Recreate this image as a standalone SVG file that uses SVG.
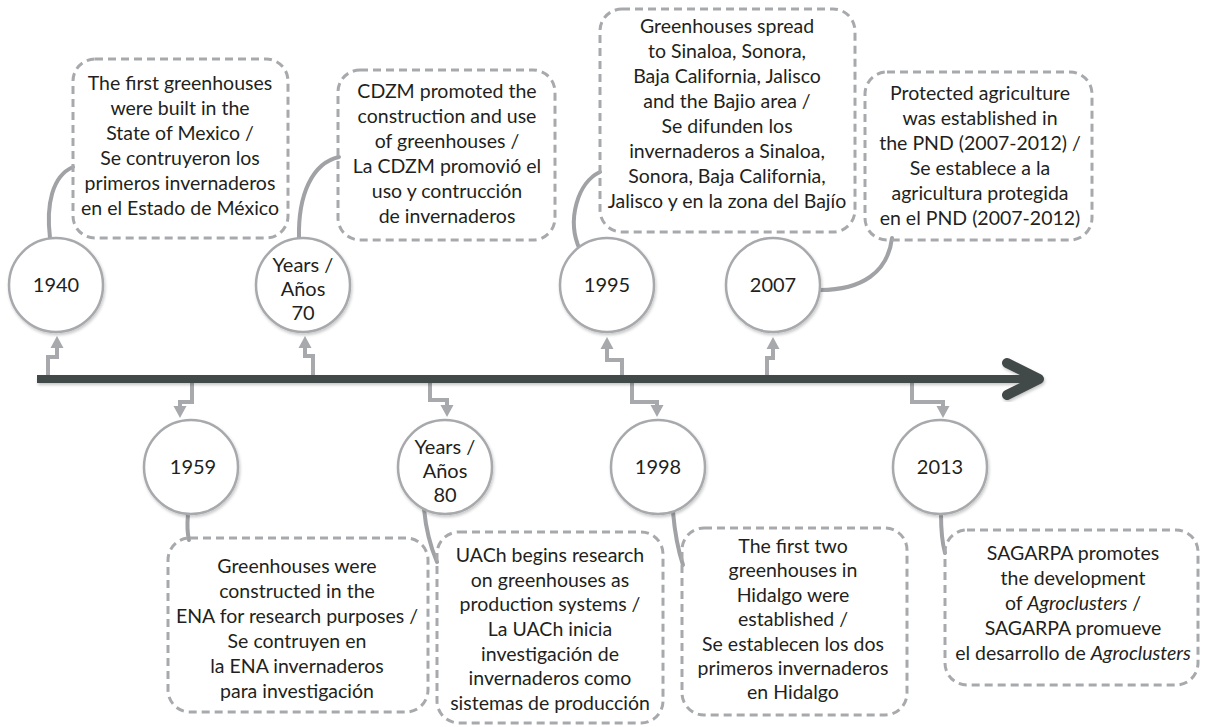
<svg xmlns="http://www.w3.org/2000/svg" width="1206" height="727" viewBox="0 0 1206 727">
<defs>
<style>
.bx{fill:none;stroke:#a7a9ac;stroke-width:3;stroke-dasharray:8 5}
.cc{fill:#fff;stroke:#a7a9ac;stroke-width:2.5}
.ln{fill:none;stroke:#a7a9ac;stroke-width:4}
.cu{fill:none;stroke:#a0a2a5;stroke-width:4;stroke-linecap:round}
.ah{fill:#a7a9ac}
text{font-family:Lato,"Liberation Sans",sans-serif;font-size:19.5px;fill:#231f20;text-anchor:middle}
.yr{font-size:20px}
</style>
<filter id="sh" x="-20%" y="-20%" width="140%" height="140%">
<feDropShadow dx="1" dy="2" stdDeviation="1.5" flood-color="#000" flood-opacity="0.22"/>
</filter>
</defs>
<rect width="1206" height="727" fill="#fff"/>
<g id="connectors">
<path class="ln" d="M48 377 V357 H57 V346"/><polygon class="ah" points="57,336 50.5,348 63.5,348"/>
<path class="ln" d="M313 377 V356 H305 V346"/><polygon class="ah" points="305,336 298.5,348 311.5,348"/>
<path class="ln" d="M622 377 V360 H607 V347"/><polygon class="ah" points="607,337 600.5,349 613.5,349"/>
<path class="ln" d="M767 377 V358 H773 V347"/><polygon class="ah" points="773,337 766.5,349 779.5,349"/>
<path class="ln" d="M192 381 V402 H180 V408"/><polygon class="ah" points="180,418 173.5,406 186.5,406"/>
<path class="ln" d="M430 381 V400 H447 V407"/><polygon class="ah" points="447,417 440.5,405 453.5,405"/>
<path class="ln" d="M632 381 V402 H657 V407"/><polygon class="ah" points="657,417 650.5,405 663.5,405"/>
<path class="ln" d="M912 381 V402 H943 V408"/><polygon class="ah" points="943,418 936.5,406 949.5,406"/>
<path class="cu" d="M73 167 C52 176 46 205 50 238"/>
<path class="cu" d="M339 157 C312 163 298 195 299 238"/>
<path class="cu" d="M600 172 C578 182 566 220 580 250"/>
<path class="cu" d="M892 238 C888 272 862 290 820 290"/>
<path class="cu" d="M188 514 C187 525 187 532 189 540"/>
<path class="cu" d="M424 509 C426 530 431 548 437 562"/>
<path class="cu" d="M673 512 C675 535 678 550 683 565"/>
<path class="cu" d="M941 514 C941 530 942 542 945 553"/>
</g>
<g id="timeline" filter="url(#sh)">
<line x1="37" y1="379" x2="1034" y2="379" stroke="#434848" stroke-width="8"/>
<polyline points="1007,363 1039,379 1007,395" fill="none" stroke="#434848" stroke-width="10" stroke-linecap="round" stroke-linejoin="round"/>
</g>
<g id="n1940"><circle class="cc" cx="56" cy="285" r="47" filter="url(#sh)"/><text class="yr" x="56" y="292">1940</text></g>
<g id="n70"><circle class="cc" cx="303" cy="285" r="47" filter="url(#sh)"/><text class="yr" x="303" y="272">Years /</text><text class="yr" x="303" y="296">Años</text><text class="yr" x="303" y="320">70</text></g>
<g id="n1995"><circle class="cc" cx="607" cy="285" r="47" filter="url(#sh)"/><text class="yr" x="607" y="292">1995</text></g>
<g id="n2007"><circle class="cc" cx="773" cy="285" r="47" filter="url(#sh)"/><text class="yr" x="773" y="292">2007</text></g>
<g id="n1959"><circle class="cc" cx="191" cy="467" r="47" filter="url(#sh)"/><text class="yr" x="193" y="474">1959</text></g>
<g id="n80"><circle class="cc" cx="445" cy="467" r="47" filter="url(#sh)"/><text class="yr" x="445" y="454">Years /</text><text class="yr" x="445" y="478">Años</text><text class="yr" x="445" y="502">80</text></g>
<g id="n1998"><circle class="cc" cx="658" cy="467" r="47" filter="url(#sh)"/><text class="yr" x="658" y="474">1998</text></g>
<g id="n2013"><circle class="cc" cx="940" cy="467" r="47" filter="url(#sh)"/><text class="yr" x="940" y="474">2013</text></g>
<g id="b1"><rect class="bx" x="73" y="59" width="215" height="179" rx="22"/>
<text x="180" y="90">The first greenhouses</text><text x="180" y="115">were built in the</text><text x="180" y="140">State of Mexico /</text><text x="180" y="165">Se contruyeron los</text><text x="180" y="190">primeros invernaderos</text><text x="180" y="215">en el Estado de México</text></g>
<g id="b2"><rect class="bx" x="338" y="70" width="217" height="170" rx="22"/>
<text x="447" y="98">CDZM promoted the</text><text x="447" y="123">construction and use</text><text x="447" y="148">of greenhouses /</text><text x="447" y="173">La CDZM promovió el</text><text x="447" y="198">uso y contrucción</text><text x="447" y="223">de invernaderos</text></g>
<g id="b3"><rect class="bx" x="600" y="9" width="255" height="223" rx="22"/>
<text x="727" y="33">Greenhouses spread</text><text x="727" y="58">to Sinaloa, Sonora,</text><text x="727" y="83">Baja California, Jalisco</text><text x="727" y="108">and the Bajio area /</text><text x="727" y="133">Se difunden los</text><text x="727" y="158">invernaderos a Sinaloa,</text><text x="727" y="183">Sonora, Baja California,</text><text x="727" y="208">Jalisco y en la zona del Bajío</text></g>
<g id="b4"><rect class="bx" x="865" y="72" width="227" height="168" rx="22"/>
<text x="980" y="100">Protected agriculture</text><text x="980" y="125">was established in</text><text x="980" y="150">the PND (2007-2012) /</text><text x="980" y="175">Se establece a la</text><text x="980" y="200">agricultura protegida</text><text x="980" y="225">en el PND (2007-2012)</text></g>
<g id="b5"><rect class="bx" x="168" y="538" width="260" height="174" rx="22"/>
<text x="297" y="573">Greenhouses were</text><text x="297" y="598">constructed in the</text><text x="297" y="623">ENA for research purposes /</text><text x="297" y="648">Se contruyen en</text><text x="297" y="673">la ENA invernaderos</text><text x="297" y="698">para investigación</text></g>
<g id="b6"><rect class="bx" x="437" y="532" width="226" height="191" rx="22"/>
<text x="550" y="562">UACh begins research</text><text x="550" y="587">on greenhouses as</text><text x="550" y="611">production systems /</text><text x="550" y="636">La UACh inicia</text><text x="550" y="661">investigación de</text><text x="550" y="685">invernaderos como</text><text x="550" y="710">sistemas de producción</text></g>
<g id="b7"><rect class="bx" x="682" y="528" width="225" height="187" rx="22"/>
<text x="793" y="553">The first two</text><text x="793" y="577">greenhouses in</text><text x="793" y="602">Hidalgo were</text><text x="793" y="626">established /</text><text x="793" y="651">Se establecen los dos</text><text x="793" y="675">primeros invernaderos</text><text x="793" y="699">en Hidalgo</text></g>
<g id="b8"><rect class="bx" x="945" y="530" width="253" height="155" rx="22"/>
<text x="1073" y="560">SAGARPA promotes</text><text x="1073" y="585">the development</text><text x="1073" y="610">of <tspan font-style="italic">Agroclusters</tspan> /</text><text x="1073" y="635">SAGARPA promueve</text><text x="1073" y="660">el desarrollo de <tspan font-style="italic">Agroclusters</tspan></text></g>
</svg>
